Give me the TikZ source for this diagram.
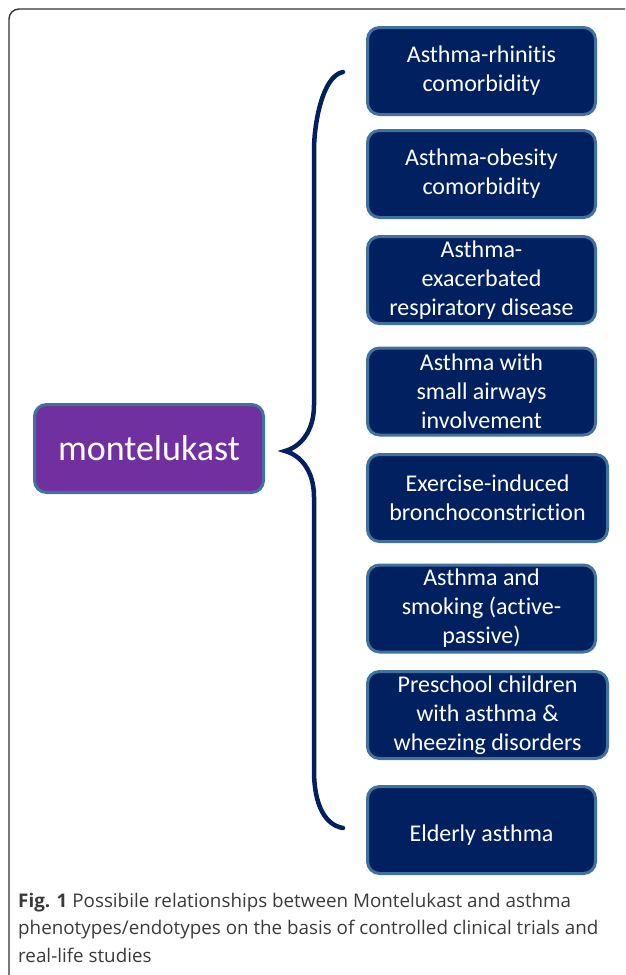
\documentclass[tikz,border=0pt]{standalone}
\usepackage{fontspec}
\setmainfont{Carlito}[Ligatures=NoCommon]
\newfontfamily\capfont{Open Sans}
\usetikzlibrary{positioning, calc}

\definecolor{boxnavy}{HTML}{002060}
\definecolor{boxedge}{HTML}{41719C}
\definecolor{drugpurple}{HTML}{7030A0}
\definecolor{captext}{HTML}{3A3A3A}
\definecolor{framegray}{HTML}{333333}

\begin{document}
\begin{tikzpicture}[
    x=1pt, y=-1pt,
    % styles
    phenobox/.style={
        draw=boxedge,
        line width=3pt,
        fill=boxnavy,
        rounded corners=12pt,
        text=white,
        align=center,
        anchor=west,
        minimum width=228pt,
        minimum height=87pt,
        inner sep=2pt,
        font=\fontsize{24}{29}\selectfont,
        execute at begin node={\rule{0pt}{26pt}}
    },
    widebox/.style={
        phenobox,
        minimum width=240pt
    },
    drugbox/.style={
        draw=boxedge,
        line width=3pt,
        fill=drugpurple,
        rounded corners=12pt,
        text=white,
        minimum width=229pt,
        minimum height=88pt,
        font=\fontsize{36}{42}\selectfont
    },
    bracket/.style={
        draw=boxnavy,
        line width=4.5pt,
        line cap=round
    }
]
    \useasboundingbox (0,0) rectangle (625,975);
    \clip (0,0) rectangle (625,975);

    % --- 1. Frame ---
    \draw[framegray, line width=1.4pt, rounded corners=10pt] (9,9) rectangle (660,1010);

    % --- 2. Montelukast (Left) ---
    \node[drugbox] (mont) at (149,448.5) {montelukast};

    % --- 3. Phenotypes (Right) ---
    \node[phenobox] (rhinitis) at (366,71) {Asthma-rhinitis\\comorbidity};
    \node[phenobox] (obesity) at (366,174) {Asthma-obesity\\comorbidity};
    \node[phenobox] (aerd) at (366,280) {Asthma-\\exacerbated\\respiratory disease};
    \node[phenobox] (airways) at (366,391.5) {Asthma with\\small airways\\involvement};
    \node[widebox] (exercise) at (366,498) {Exercise-induced\\bronchoconstriction};
    \node[phenobox] (smoking) at (366,608.5) {Asthma and\\smoking (active-\\passive)};
    \node[widebox] (preschool) at (366,715) {Preschool children\\with asthma \&\\wheezing disorders};
    \node[phenobox] (elderly) at (366,830) {Elderly asthma};

    % --- 4. Bracket ---
    \coordinate (btop) at ($(rhinitis.west)+(-23,1)$);
    \coordinate (bbot) at ($(elderly.west)+(-23,-2)$);
    \coordinate (btip) at ($(mont.east)+(20,2.5)$);
    \path[bracket] (btop) .. controls ++(-21,4) and ++(0,-25) .. ($(btop)+(-29,78)$)
        -- ($(btip)+(29,-46)$) .. controls ++(0,27) and ++(15,-4) .. (btip)
        .. controls ++(15,4) and ++(0,-27) .. ($(btip)+(29,46)$)
        -- ($(bbot)+(-29,-58)$) .. controls ++(0,35) and ++(-18,-3) .. (bbot);

    % --- 5. Caption ---
    \node[anchor=north west, align=left, text=captext, inner sep=0pt,
          font=\capfont\fontsize{18.8}{27.5}\selectfont] (caption) at (18,893)
        {\textbf{Fig. 1} Possibile relationships between Montelukast and asthma\\
         phenotypes/endotypes on the basis of controlled clinical trials and\\
         real-life studies};
\end{tikzpicture}
\end{document}
